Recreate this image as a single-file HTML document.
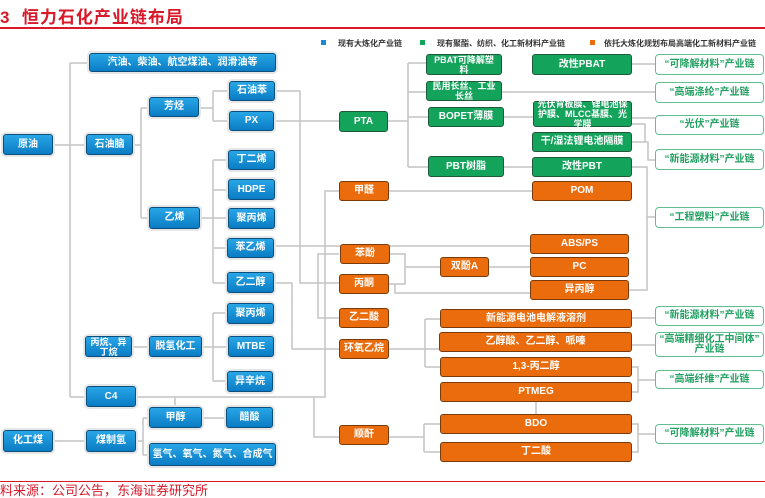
<!DOCTYPE html>
<html><head><meta charset="utf-8">
<style>
body{margin:0;width:765px;height:498px;background:#fff;position:relative;overflow:hidden;font-family:"Liberation Sans","Noto Sans CJK SC",sans-serif;}
.t{position:absolute;left:0;top:3px;font-size:17px;font-weight:bold;color:#d9182a;letter-spacing:1px}
.rl{position:absolute;left:0;width:765px;height:2px;background:#d9182a}
.n{position:absolute;box-sizing:border-box;display:flex;align-items:center;justify-content:center;text-align:center;color:#fff;font-size:10px;font-weight:bold;line-height:10px;border-radius:3px}
.b{background:linear-gradient(#28a6e6,#0b7cc4);border:1px solid #0a4f7d;box-shadow:0 0 0 2px #e6e6e6}
.g{background:#13a35b;border:1px solid #1c5a38}
.o{background:#ea6c0c;border:1px solid #7a3a0a}
.w{background:#fff;border:1px solid #5fbf8f;color:#1fa060;border-radius:4px}
.lg{position:absolute;top:38px;font-size:8px;color:#333;font-weight:bold}
.sq{position:absolute;top:40px;width:5px;height:5px}
svg{position:absolute;left:0;top:0}
</style></head><body>
<div class="t">3&nbsp; 恒力石化产业链布局</div>
<div class="rl" style="top:27px"></div>
<div class="rl" style="top:481px;height:1px"></div>
<div style="position:absolute;left:0;top:484px;font-size:13px;color:#d9182a;line-height:14px">料来源：公司公告，东海证券研究所</div>
<div class="sq" style="left:321px;background:#1a8ad4"></div><div class="lg" style="left:338px">现有大炼化产业链</div>
<div class="sq" style="left:420px;background:#13a35b"></div><div class="lg" style="left:437px">现有聚酯、纺织、化工新材料产业链</div>
<div class="sq" style="left:590px;background:#ea6c0c"></div><div class="lg" style="left:604px">依托大炼化规划布局高端化工新材料产业链</div>
<svg width="765" height="498" fill="none" stroke="#c4c4c4" stroke-width="1.5">
<path d="M53 145H86M70 63V397M70 63H89M70 397H86"/>
<path d="M133 145H141M141 108V218M141 108H149M141 218H149"/>
<path d="M199 108H213M213 91V121M213 91H229M213 121H229"/>
<path d="M200 218H228M213 160V283M213 160H228M213 190H228M213 248H227M213 283H227"/>
<path d="M274 121H339M275 91H300V283H339"/>
<path d="M274 246H530"/>
<path d="M388 121H408M408 63V167M408 63H426M408 92H426M408 117H428M408 167H428"/>
<path d="M502 92H655M504 117H533M504 167H532M632 64H655M389 191H532"/>
<path d="M632 118H655M632 124H645V142H632M645 142H648V160H655"/>
<path d="M632 167H647V290H629M647 217H655"/>
<path d="M175 407V397H325V191H339M136 397H314V437H339"/>
<path d="M339 254H318V318H339"/>
<path d="M274 283H292V349H339"/>
<path d="M390 254H405V284H389M405 267H440M489 267H530M395 284V293H530"/>
<path d="M389 349H439M425 319V367M425 319H440M425 367H440"/>
<path d="M632 318H655M632 345H655M632 367H638V392H632M638 380H655"/>
<path d="M536 402V414M389 437H424M424 424V452M424 424H440M424 452H440M632 424H638V452H632M638 434H655"/>
<path d="M132 347H149M202 347H228M213 313V381M213 313H227M213 381H227"/>
<path d="M53 441H86M136 441H143M143 418V455M143 418H149M143 455H149M202 418H226"/>
</svg>
<!-- blue -->
<div class="n b" style="left:89px;top:53px;width:187px;height:19px">汽油、柴油、航空煤油、润滑油等</div>
<div class="n b" style="left:3px;top:134px;width:50px;height:21px">原油</div>
<div class="n b" style="left:86px;top:134px;width:47px;height:21px">石油脑</div>
<div class="n b" style="left:149px;top:97px;width:50px;height:20px">芳烃</div>
<div class="n b" style="left:149px;top:207px;width:51px;height:22px">乙烯</div>
<div class="n b" style="left:229px;top:81px;width:46px;height:20px">石油苯</div>
<div class="n b" style="left:229px;top:111px;width:45px;height:20px">PX</div>
<div class="n b" style="left:228px;top:150px;width:47px;height:20px">丁二烯</div>
<div class="n b" style="left:228px;top:179px;width:47px;height:21px">HDPE</div>
<div class="n b" style="left:228px;top:208px;width:47px;height:21px">聚丙烯</div>
<div class="n b" style="left:227px;top:238px;width:47px;height:20px">苯乙烯</div>
<div class="n b" style="left:227px;top:272px;width:47px;height:21px">乙二醇</div>
<div class="n b" style="left:227px;top:303px;width:47px;height:21px">聚丙烯</div>
<div class="n b" style="left:228px;top:336px;width:46px;height:21px">MTBE</div>
<div class="n b" style="left:227px;top:371px;width:46px;height:21px">异辛烷</div>
<div class="n b" style="left:85px;top:336px;width:47px;height:21px;font-size:9px">丙烷、异<br>丁烷</div>
<div class="n b" style="left:149px;top:336px;width:53px;height:21px">脱氢化工</div>
<div class="n b" style="left:86px;top:386px;width:50px;height:21px">C4</div>
<div class="n b" style="left:149px;top:407px;width:53px;height:21px">甲醇</div>
<div class="n b" style="left:226px;top:407px;width:47px;height:21px">醋酸</div>
<div class="n b" style="left:3px;top:430px;width:50px;height:22px">化工煤</div>
<div class="n b" style="left:86px;top:430px;width:50px;height:22px">煤制氢</div>
<div class="n b" style="left:149px;top:443px;width:127px;height:23px">氢气、氧气、氮气、合成气</div>
<!-- green -->
<div class="n g" style="left:339px;top:111px;width:49px;height:21px">PTA</div>
<div class="n g" style="left:426px;top:54px;width:76px;height:21px;font-size:9px">PBAT可降解塑<br>料</div>
<div class="n g" style="left:426px;top:81px;width:76px;height:20px;font-size:9px">民用长丝、工业<br>长丝</div>
<div class="n g" style="left:428px;top:107px;width:76px;height:20px">BOPET薄膜</div>
<div class="n g" style="left:428px;top:156px;width:76px;height:21px">PBT树脂</div>
<div class="n g" style="left:532px;top:54px;width:100px;height:21px">改性PBAT</div>
<div class="n g" style="left:533px;top:101px;width:99px;height:26px;font-size:9px">光伏背板膜、锂电池保<br>护膜、MLCC基膜、光<br>学膜</div>
<div class="n g" style="left:532px;top:132px;width:100px;height:20px">干/湿法锂电池隔膜</div>
<div class="n g" style="left:532px;top:157px;width:100px;height:20px">改性PBT</div>
<!-- white outline -->
<div class="n w" style="left:655px;top:54px;width:109px;height:21px">“可降解材料”产业链</div>
<div class="n w" style="left:655px;top:82px;width:109px;height:21px">“高端涤纶”产业链</div>
<div class="n w" style="left:655px;top:115px;width:109px;height:20px">“光伏”产业链</div>
<div class="n w" style="left:655px;top:149px;width:109px;height:21px">“新能源材料”产业链</div>
<div class="n w" style="left:655px;top:207px;width:109px;height:21px">“工程塑料”产业链</div>
<div class="n w" style="left:655px;top:306px;width:109px;height:20px">“新能源材料”产业链</div>
<div class="n w" style="left:655px;top:332px;width:109px;height:25px">“高端精细化工中间体”<br>产业链</div>
<div class="n w" style="left:655px;top:370px;width:109px;height:19px">“高端纤维”产业链</div>
<div class="n w" style="left:655px;top:424px;width:109px;height:20px">“可降解材料”产业链</div>
<!-- orange -->
<div class="n o" style="left:339px;top:181px;width:50px;height:20px">甲醛</div>
<div class="n o" style="left:532px;top:181px;width:100px;height:20px">POM</div>
<div class="n o" style="left:340px;top:244px;width:50px;height:20px">苯酚</div>
<div class="n o" style="left:339px;top:274px;width:50px;height:20px">丙酮</div>
<div class="n o" style="left:339px;top:308px;width:50px;height:20px">乙二酸</div>
<div class="n o" style="left:339px;top:339px;width:50px;height:20px">环氧乙烷</div>
<div class="n o" style="left:339px;top:425px;width:50px;height:20px">顺酐</div>
<div class="n o" style="left:530px;top:234px;width:99px;height:20px">ABS/PS</div>
<div class="n o" style="left:440px;top:257px;width:49px;height:20px">双酚A</div>
<div class="n o" style="left:530px;top:257px;width:99px;height:20px">PC</div>
<div class="n o" style="left:530px;top:280px;width:99px;height:20px">异丙醇</div>
<div class="n o" style="left:440px;top:309px;width:192px;height:19px">新能源电池电解液溶剂</div>
<div class="n o" style="left:439px;top:332px;width:193px;height:20px">乙醇酸、乙二醇、哌嗪</div>
<div class="n o" style="left:440px;top:357px;width:192px;height:20px">1,3-丙二醇</div>
<div class="n o" style="left:440px;top:382px;width:192px;height:20px">PTMEG</div>
<div class="n o" style="left:440px;top:414px;width:192px;height:20px">BDO</div>
<div class="n o" style="left:440px;top:442px;width:192px;height:20px">丁二酸</div>
</body></html>
